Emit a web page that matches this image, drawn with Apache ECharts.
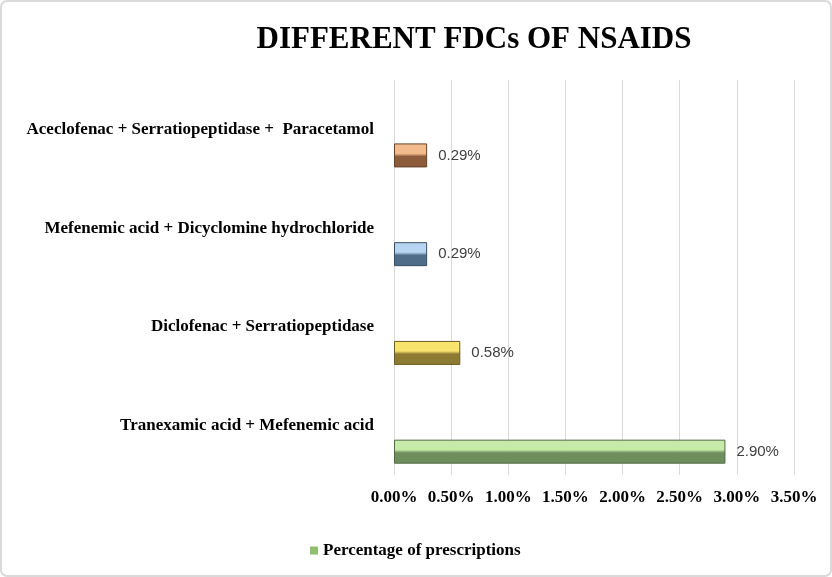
<!DOCTYPE html>
<html>
<head>
<meta charset="utf-8">
<script src="https://cdn.jsdelivr.net/npm/echarts@6/dist/echarts.min.js"></script>
<style>
  html, body { margin: 0; padding: 0; background: #fff; }
  #chart { width: 832px; height: 577px; }
</style>
</head>
<body>
<div id="chart"></div>
<script>
const categories = [
    'Tranexamic acid + Mefenemic acid',
    'Diclofenac + Serratiopeptidase',
    'Mefenemic acid + Dicyclomine hydrochloride',
    'Aceclofenac + Serratiopeptidase +  Paracetamol'
];
const percentages = [2.90, 0.58, 0.29, 0.29];
const tickValues = [0, 0.5, 1, 1.5, 2, 2.5, 3, 3.5];

// bevel colours per bar: light top, dark bottom
const lightColors = ['#c6eba9', '#f8e46c', '#b7d5f1', '#f2bb8e'];
const darkColors = ['#6e8e5d', '#8e7b33', '#4f6c89', '#8b5b3b'];
const edgeColors = ['#4f6b42', '#6b5c22', '#384f66', '#66412a'];

const chart = echarts.init(document.getElementById('chart'));

const serif = 'Liberation Serif';

const barData = percentages.map((v, i) => ({
    value: v,
    itemStyle: {
        color: new echarts.graphic.LinearGradient(0, 0, 0, 1, [
            { offset: 0, color: lightColors[i] },
            { offset: 0.42, color: lightColors[i] },
            { offset: 0.55, color: darkColors[i] },
            { offset: 1, color: darkColors[i] }
        ]),
        borderColor: edgeColors[i],
        borderWidth: 1
    }
}));

const option = {
    animation: false,
    backgroundColor: '#fff',
    title: {
        text: 'DIFFERENT FDCs OF NSAIDS',
        left: 469,
        top: 19,
        textAlign: 'center',
        textStyle: {
            fontFamily: serif,
            fontWeight: 'bold',
            fontSize: 31,
            color: '#000'
        }
    },
    legend: {
        data: ['Percentage of prescriptions'],
        left: 305,
        top: 537,
        itemWidth: 8,
        itemHeight: 8,
        itemGap: 4,
        icon: 'rect',
        textStyle: {
            fontFamily: serif,
            fontWeight: 'bold',
            fontSize: 17,
            color: '#000'
        }
    },
    grid: {
        left: 394,
        right: 38,
        top: 80,
        bottom: 102,
        containLabel: false
    },
    xAxis: {
        type: 'value',
        min: 0,
        max: 3.5,
        interval: 0.5,
        axisLine: { show: false },
        axisTick: { show: false },
        splitLine: { lineStyle: { color: '#d9d9d9', width: 1 } },
        axisLabel: {
            margin: 14,
            fontFamily: serif,
            fontWeight: 'bold',
            fontSize: 17,
            color: '#000',
            formatter: v => v.toFixed(2) + '%'
        }
    },
    yAxis: {
        type: 'category',
        data: categories,
        axisLine: { show: false },
        axisTick: { show: false },
        axisLabel: {
            margin: 20,
            fontFamily: serif,
            fontWeight: 'bold',
            fontSize: 17,
            color: '#000'
        }
    },
    graphic: [{
        type: 'rect',
        shape: { x: 1, y: 1, width: 830, height: 575, r: 6 },
        style: { fill: 'none', stroke: '#d9d9d9', lineWidth: 2 },
        silent: true
    }],
    series: [
        {
            name: 'spacer',
            type: 'bar',
            barWidth: 24,
            barGap: '117%',
            data: percentages.map(() => 0),
            itemStyle: { color: 'transparent' },
            silent: true
        },
        {
            name: 'Percentage of prescriptions',
            type: 'bar',
            barWidth: 24,
            data: barData,
            itemStyle: { color: '#8fbf6f' },
            label: {
                show: true,
                position: 'right',
                distance: 11,
                fontFamily: 'Liberation Sans',
                fontSize: 15,
                color: '#404040',
                formatter: p => p.value.toFixed(2) + '%'
            }
        }
    ]
};

chart.setOption(option);
</script>
</body>
</html>
